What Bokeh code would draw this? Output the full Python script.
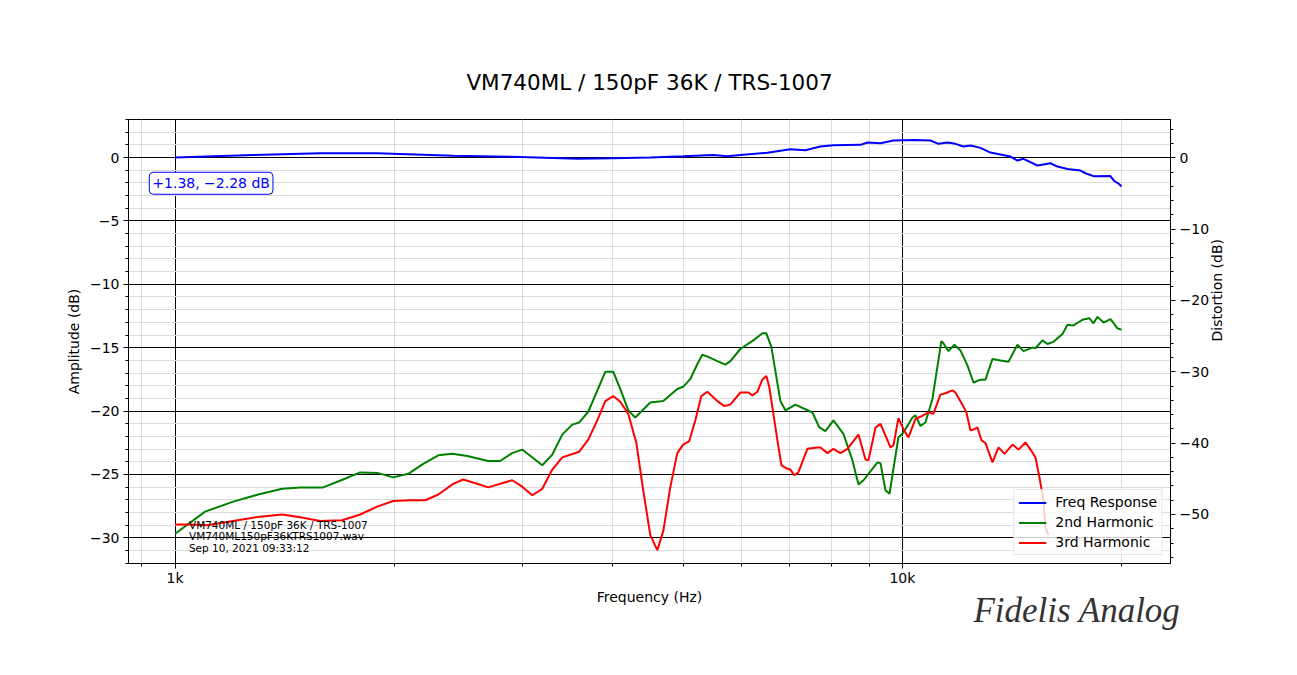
import math
from bokeh.plotting import figure
from bokeh.models import (Range1d, LinearAxis, FixedTicker, SingleIntervalTicker,
                          Label, Legend, LegendItem, Title)
from bokeh.embed import file_html
from bokeh.resources import INLINE

FONT = "DejaVu Sans"

# ---------------- data ----------------
title_text = "VM740ML / 150pF 36K / TRS-1007"
info_lines = ["VM740ML / 150pF 36K / TRS-1007", "VM740ML150pF36KTRS1007.wav", "Sep 10, 2021 09:33:12"]
range_text = "+1.38, \u22122.28 dB"
signature_text = "Fidelis Analog"

freq_fr = [1000, 1280, 1583, 1896, 2412, 2983, 3573, 4004, 4502, 4996, 5495, 5744, 5987, 6522, 7013,
           7355, 7713, 8038, 8756, 8952, 9329, 9722, 10354, 10927, 11208, 11533, 11827, 12132, 12402,
           12803, 13213, 14078, 14394, 14669, 15334, 15978, 16336, 16865, 17570, 17850, 18310, 19300,
           19550, 19850, 20000]
amp_fr = [0.0, 0.2, 0.33, 0.33, 0.15, 0.05, -0.1, -0.05, 0.0, 0.1, 0.2, 0.1, 0.2, 0.37, 0.66,
          0.58, 0.87, 0.97, 1.0, 1.18, 1.13, 1.34, 1.38, 1.34, 1.08, 1.18, 1.08, 0.87, 0.95,
          0.76, 0.39, 0.08, -0.24, -0.1, -0.63, -0.45, -0.71, -0.9, -1.03, -1.24, -1.47, -1.45,
          -1.85, -2.08, -2.28]

freq_h2 = [1000, 1100, 1202, 1301, 1404, 1486, 1598, 1702, 1797, 1902,
           1995, 2092, 2194, 2301, 2405, 2522, 2695, 2799, 2907, 3001,
           3198, 3301, 3407, 3516, 3595, 3699, 3904, 4004, 4093, 4199,
           4292, 4502, 4691, 4903, 4996, 5110, 5225, 5308, 5409, 5566,
           5709, 5800, 5987, 6237, 6418, 6500, 6604, 6796, 6904, 7126,
           7520, 7689, 7837, 8038, 8296, 8536, 8701, 8841, 9241, 9329,
           9478, 9599, 9874, 10032, 10323, 10421, 10587, 10755, 10997, 11171,
           11313, 11385, 11568, 11789, 12016, 12285, 12522, 12803, 13008, 13297,
           13638, 13989, 14394, 14669, 15093, 15236, 15579, 15826, 16131, 16598,
           16865, 17186, 17682, 18078, 18310, 18544, 18902, 19324, 19756, 20000]
dist_h2 = [-52.7, -49.6, -48.2, -47.2, -46.4, -46.2, -46.2, -45.1, -44.1, -44.2,
           -44.8, -44.3, -42.9, -41.7, -41.5, -41.8, -42.5, -42.5, -41.4, -40.9,
           -43.1, -41.6, -38.8, -37.4, -37.1, -35.6, -30.0, -30.0, -32.4, -35.4,
           -36.4, -34.3, -34.1, -32.4, -32.1, -31.0, -28.9, -27.6, -27.9, -28.5,
           -29.0, -28.5, -26.8, -25.6, -24.6, -24.6, -26.5, -34.1, -35.4, -34.6,
           -35.7, -37.8, -38.3, -36.8, -38.7, -42.4, -45.8, -45.2, -42.7, -42.8,
           -46.6, -47.1, -39.2, -38.5, -36.4, -36.1, -37.6, -37.1, -33.8, -29.3,
           -25.7, -26.0, -27.1, -26.2, -27.0, -29.1, -31.5, -31.1, -31.1, -28.2,
           -28.4, -28.6, -26.2, -27.1, -26.6, -26.7, -25.6, -26.1, -25.8, -24.7,
           -23.4, -23.5, -22.7, -22.5, -23.2, -22.3, -23.1, -22.6, -23.9, -24.1]

freq_h3 = [1000, 1039, 1107, 1202, 1309, 1404, 1486, 1583, 1697, 1797,
           1896, 1995, 2105, 2208, 2301, 2412, 2489, 2602, 2695, 2907,
           3001, 3098, 3198, 3301, 3407, 3595, 3699, 3806, 3904, 4004,
           4093, 4199, 4306, 4402, 4502, 4603, 4691, 4796, 4903, 4996,
           5093, 5192, 5291, 5393, 5566, 5692, 5800, 5987, 6141, 6219,
           6318, 6418, 6500, 6563, 6647, 6732, 6818, 6948, 7013, 7103,
           7193, 7402, 7641, 7713, 7886, 8038, 8218, 8402, 8701, 8897,
           8981, 9184, 9329, 9630, 9722, 9874, 10032, 10193, 10421, 10587,
           10858, 11030, 11278, 11457, 11716, 11827, 12092, 12246, 12402, 12522,
           12682, 12844, 13008, 13297, 13552, 13813, 14167, 14440, 14763, 15093,
           15236, 15431, 15627, 15727, 15877]
dist_h3 = [-51.4, -51.4, -51.5, -50.9, -50.3, -50.0, -50.4, -50.9, -50.8, -50.0,
           -48.9, -48.1, -48.0, -48.0, -47.2, -45.7, -45.1, -45.7, -46.2, -45.2,
           -46.1, -47.3, -46.4, -43.7, -42.0, -41.2, -39.5, -36.8, -34.1, -33.4,
           -34.2, -35.9, -39.9, -46.6, -52.9, -55.0, -52.3, -46.2, -41.4, -40.2,
           -39.7, -36.8, -33.4, -32.8, -34.1, -34.8, -34.6, -32.9, -32.9, -33.3,
           -32.8, -31.1, -30.6, -32.2, -35.9, -39.6, -43.1, -43.6, -43.7, -44.5,
           -44.1, -40.8, -40.6, -40.6, -41.4, -40.8, -41.4, -40.8, -38.8, -42.3,
           -42.4, -37.8, -37.3, -40.6, -40.3, -36.5, -38.0, -39.2, -36.6, -36.3,
           -35.7, -35.9, -33.2, -33.0, -32.6, -32.9, -34.6, -35.7, -38.2, -38.1,
           -37.8, -39.6, -40.0, -42.7, -40.6, -41.5, -40.2, -40.9, -39.9, -41.3,
           -42.0, -44.8, -48.0, -51.8, -52.9]

x_ticks = [1000, 10000]
x_tick_labels = ["1k", "10k"]
x_minor_ticks = [900, 2000, 3000, 4000, 5000, 6000, 7000, 8000, 9000, 20000]
left_ticks = [-30, -25, -20, -15, -10, -5, 0]
right_ticks = [-50, -40, -30, -20, -10, 0]

series_labels = ["Freq Response", "2nd Harmonic", "3rd Harmonic"]
series_colors = ["blue", "green", "red"]


def minus(v):
    return str(v).replace("-", "\u2212")


# ---------------- figure ----------------
W, H = 1290, 668
p = figure(width=W, height=H, x_axis_type="log",
           x_range=Range1d(863, 23365), y_range=Range1d(-32.02, 3.0),
           output_backend="svg", toolbar_location=None,
           min_border_left=128, min_border_right=W - 1170, min_border_top=119,
           min_border_bottom=H - 563)
p.extra_y_ranges = {"dist": Range1d(-56.87, 5.37)}

p.title.text = title_text
p.title.align = "center"
p.title.text_font = FONT
p.title.text_font_size = "21.5px"
p.title.text_font_style = "normal"
p.title.text_color = "black"
p.title.standoff = 49

p.outline_line_color = "black"
p.outline_line_alpha = 1
p.background_fill_color = "white"
p.border_fill_color = "white"

p.xaxis.ticker = FixedTicker(ticks=x_ticks, minor_ticks=x_minor_ticks)
p.xaxis.major_label_overrides = {t: l for t, l in zip(x_ticks, x_tick_labels)}
p.xaxis.axis_label = "Frequency (Hz)"

p.yaxis.ticker = SingleIntervalTicker(interval=5, num_minor_ticks=5)
p.yaxis.major_label_overrides = {t: minus(t) for t in left_ticks}
p.yaxis.axis_label = "Amplitude (dB)"

raxis = LinearAxis(y_range_name="dist", axis_label="Distortion (dB)",
                   ticker=SingleIntervalTicker(interval=10, num_minor_ticks=5))
raxis.major_label_overrides = {t: minus(t) for t in right_ticks}
raxis.axis_label_orientation = math.pi / 2
p.add_layout(raxis, "right")

for ax in [p.xaxis[0], p.yaxis[0], raxis]:
    ax.axis_line_color = "black"
    ax.major_tick_line_color = "black"
    ax.minor_tick_line_color = "black"
    ax.major_tick_in = 0
    ax.major_tick_out = 5
    ax.minor_tick_in = 0
    ax.minor_tick_out = 3
    ax.major_label_text_font = FONT
    ax.major_label_text_font_size = "14px"
    ax.major_label_text_color = "black"
    ax.major_label_standoff = 4
    ax.axis_label_text_font = FONT
    ax.axis_label_text_font_size = "14px"
    ax.axis_label_text_font_style = "normal"
    ax.axis_label_text_color = "black"
    ax.axis_label_standoff = 5

p.xaxis.major_label_standoff = 1
p.xaxis.axis_label_standoff = 0

for g in [p.xgrid[0], p.ygrid[0]]:
    g.grid_line_color = "black"
    g.grid_line_alpha = 1
    g.grid_line_width = 1
    g.minor_grid_line_color = "#dcdcdc"
    g.minor_grid_line_width = 1

r_fr = p.line(freq_fr, amp_fr, color=series_colors[0], line_width=2)
r_h2 = p.line(freq_h2, dist_h2, color=series_colors[1], line_width=2, y_range_name="dist")
r_h3 = p.line(freq_h3, dist_h3, color=series_colors[2], line_width=2, y_range_name="dist")

legend = Legend(items=[LegendItem(label=series_labels[0], renderers=[r_fr]),
                       LegendItem(label=series_labels[1], renderers=[r_h2]),
                       LegendItem(label=series_labels[2], renderers=[r_h3])],
                location="bottom_right", margin=8, padding=4, spacing=4,
                glyph_width=28, glyph_height=15, label_height=15, label_standoff=9,
                label_text_font=FONT, label_text_font_size="14px", label_text_color="black",
                border_line_color="#cccccc", background_fill_alpha=0.8)
p.add_layout(legend)

# range annotation box
p.add_layout(Label(x=1121, y=-2.03, text=range_text, text_align="center", text_baseline="middle",
                   text_font=FONT, text_font_size="14px", text_color="blue",
                   background_fill_color="white", border_line_color="blue", border_line_width=1,
                   border_radius=4, padding=3))

# info text lower left
for line, yv in zip(info_lines, [-28.95, -29.87, -30.79]):
    p.add_layout(Label(x=1045, y=yv, text=line, text_align="left", text_baseline="middle",
                       text_font=FONT, text_font_size="10.5px", text_color="black"))

# signature below the plot
p.add_layout(Title(text=signature_text, align="right", offset=-10, standoff=-38,
                   text_font="Liberation Serif", text_font_style="italic", text_font_size="35px",
                   text_color="#333333"), "below")

open("out.html", "w").write(file_html(p, INLINE))
